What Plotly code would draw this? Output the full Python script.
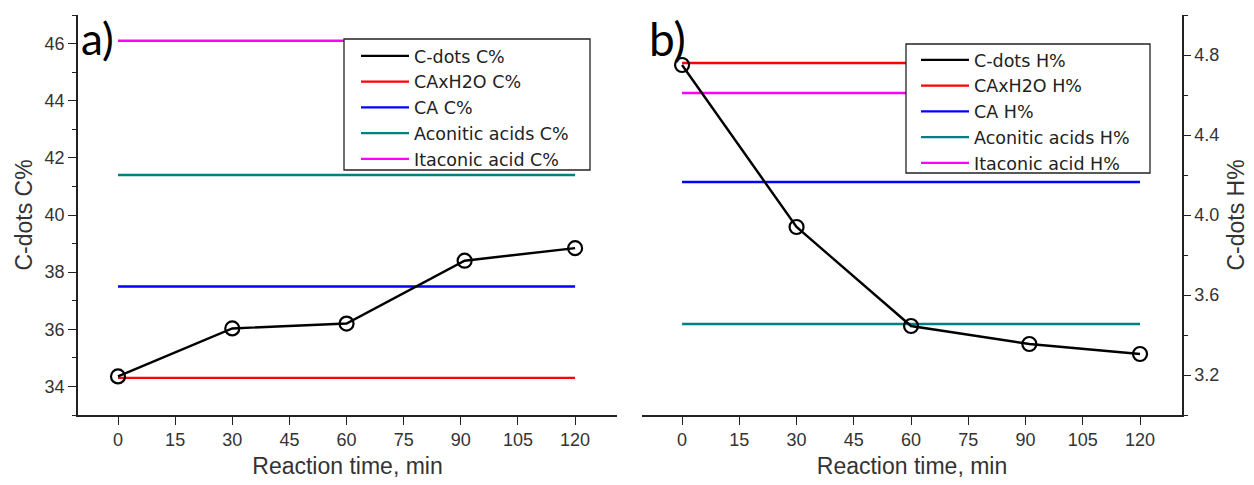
import plotly.graph_objects as go

# ---------------- data ----------------
time_min = [0, 30, 60, 91, 120]
ref_x = [0, 120]

cdots_C = [34.35, 36.03, 36.2, 38.4, 38.84]
caxh2o_C = 34.3
ca_C = 37.5
aconitic_C = 41.4
itaconic_C = 46.1

cdots_H = [4.75, 3.94, 3.445, 3.355, 3.305]
caxh2o_H = 4.76
ca_H = 4.165
aconitic_H = 3.455
itaconic_H = 4.61

x_ticks = [0, 15, 30, 45, 60, 75, 90, 105, 120]

names_C = ["C-dots C%", "CAxH2O C%", "CA C%", "Aconitic acids C%", "Itaconic acid C%"]
names_H = ["C-dots H%", "CAxH2O H%", "CA H%", "Aconitic acids H%", "Itaconic acid H%"]
colors = ["#000000", "#FF0000", "#0000FF", "#008080", "#FF00FF"]

W, H = 1254, 485
FONT = "Liberation Sans, Arial, sans-serif"
LFONT = "DejaVu Sans, sans-serif"
TICKC = "#333333"

fig = go.Figure()

def add_panel(xa, ya, cdots, refs, names, legend):
    for val, name, col in zip(refs, names[1:], colors[1:]):
        fig.add_trace(go.Scatter(x=ref_x, y=[val, val], mode="lines", name=name,
                                 line=dict(color=col, width=2.4), xaxis=xa, yaxis=ya,
                                 legend=legend, legendrank=names.index(name) + 1))
    fig.add_trace(go.Scatter(x=time_min, y=cdots, mode="lines", name=names[0],
                             line=dict(color="black", width=2.4), xaxis=xa, yaxis=ya,
                             legend=legend, legendrank=0))
    fig.add_trace(go.Scatter(x=time_min, y=cdots, mode="markers", showlegend=False,
                             marker=dict(symbol="circle-open", size=14, color="black",
                                         line=dict(width=2.2)),
                             xaxis=xa, yaxis=ya))

add_panel("x", "y", cdots_C, [caxh2o_C, ca_C, aconitic_C, itaconic_C], names_C, "legend")
add_panel("x2", "y2", cdots_H, [caxh2o_H, ca_H, aconitic_H, itaconic_H], names_H, "legend2")

ydom = [70 / H, 470 / H]
xdomA = [78 / W, 617 / W]
xdomB = [642 / W, 1182 / W]
xr = [-10.5, 131]

def xaxis_bottom(dom):
    return dict(domain=dom, range=xr, tickmode="array", tickvals=x_ticks,
                ticks="outside", ticklen=8, tickwidth=1.3, tickcolor="#222",
                showline=True, linecolor="#222", linewidth=1.5, showgrid=False,
                zeroline=False, tickfont=dict(family=FONT, size=18, color=TICKC),
                title=dict(text="Reaction time, min", standoff=9,
                           font=dict(family=FONT, size=23, color="#333")))

def xaxis_top(over, anchor):
    return dict(overlaying=over, side="top", anchor=anchor, range=xr, tickmode="array",
                tickvals=x_ticks, ticks="inside", ticklen=7, tickwidth=1.3,
                tickcolor="#222", showline=True, linecolor="#222", linewidth=1.5,
                showticklabels=False, showgrid=False, zeroline=False)

legend_common = dict(xanchor="left", yanchor="top", bgcolor="rgba(0,0,0,0)",
                     borderwidth=0, font=dict(family=LFONT, size=17.5, color="#222"),
                     itemwidth=48, tracegroupgap=0, traceorder="normal")

def box(x0, y0, x1, y1):
    return dict(type="rect", xref="paper", yref="paper", layer="above",
                x0=x0 / W, x1=x1 / W, y0=1 - y1 / H, y1=1 - y0 / H,
                fillcolor="white", line=dict(color="#222", width=1.3))

fig.update_layout(
    width=W, height=H, margin=dict(l=0, r=0, t=0, b=0),
    paper_bgcolor="white", plot_bgcolor="white", showlegend=True,
    xaxis=dict(anchor="y", **xaxis_bottom(xdomA)),
    xaxis2=dict(anchor="y2", **xaxis_bottom(xdomB)),
    xaxis3=xaxis_top("x", "y"),
    xaxis4=xaxis_top("x2", "y2"),
    yaxis=dict(domain=ydom, anchor="x", range=[33, 47], dtick=2, tick0=0,
               ticks="outside", ticklen=8, tickwidth=1.3, tickcolor="#222",
               minor=dict(dtick=1, tick0=0, ticks="outside", ticklen=4, tickcolor="#222"),
               showline=True, linecolor="#222", linewidth=1.5, showgrid=False, zeroline=False,
               tickfont=dict(family=FONT, size=18, color=TICKC),
               title=dict(text="C-dots C%", standoff=6,
                          font=dict(family=FONT, size=23, color="#333"))),
    yaxis3=dict(overlaying="y", anchor="x", side="right", range=[33, 47], dtick=2, tick0=0,
                ticks="inside", ticklen=7, tickwidth=1.3, tickcolor="#222",
                minor=dict(dtick=1, tick0=0, ticks="inside", ticklen=3, tickcolor="#222"),
                showline=True, linecolor="#222", linewidth=1.5, showticklabels=False,
                showgrid=False, zeroline=False),
    yaxis2=dict(domain=ydom, anchor="x2", side="right", range=[3.0, 5.0], dtick=0.4, tick0=0,
                tickformat=".1f",
                ticks="outside", ticklen=7, tickwidth=1.3, tickcolor="#222",
                minor=dict(dtick=0.2, tick0=0, ticks="outside", ticklen=4, tickcolor="#222"),
                showline=True, linecolor="#222", linewidth=1.5, showgrid=False, zeroline=False,
                tickfont=dict(family=FONT, size=18, color=TICKC),
                title=dict(text="C-dots H%", standoff=10,
                           font=dict(family=FONT, size=23, color="#333"))),
    yaxis4=dict(overlaying="y2", anchor="x2", side="left", range=[3.0, 5.0], dtick=0.4, tick0=0,
                ticks="inside", ticklen=7, tickwidth=1.3, tickcolor="#222",
                minor=dict(dtick=0.2, tick0=0, ticks="inside", ticklen=3, tickcolor="#222"),
                showline=True, linecolor="#222", linewidth=1.5, showticklabels=False,
                showgrid=False, zeroline=False),
    legend=dict(x=356 / W, y=1 - 38 / H, **legend_common),
    legend2=dict(x=916 / W, y=1 - 42 / H, **legend_common),
    shapes=[box(344, 39, 590, 170), box(906, 44, 1150, 173)],
    annotations=[
        dict(text="a)", x=79 / W, y=1 - 10 / H, xref="paper", yref="paper",
             xanchor="left", yanchor="top", showarrow=False,
             font=dict(family="Lato, Open Sans, sans-serif", size=44, color="black")),
        dict(text="b)", x=647 / W, y=1 - 9 / H, xref="paper", yref="paper",
             xanchor="left", yanchor="top", showarrow=False,
             font=dict(family="Lato, Open Sans, sans-serif", size=46, color="black")),
    ],
)

fig.write_html("out.html")
